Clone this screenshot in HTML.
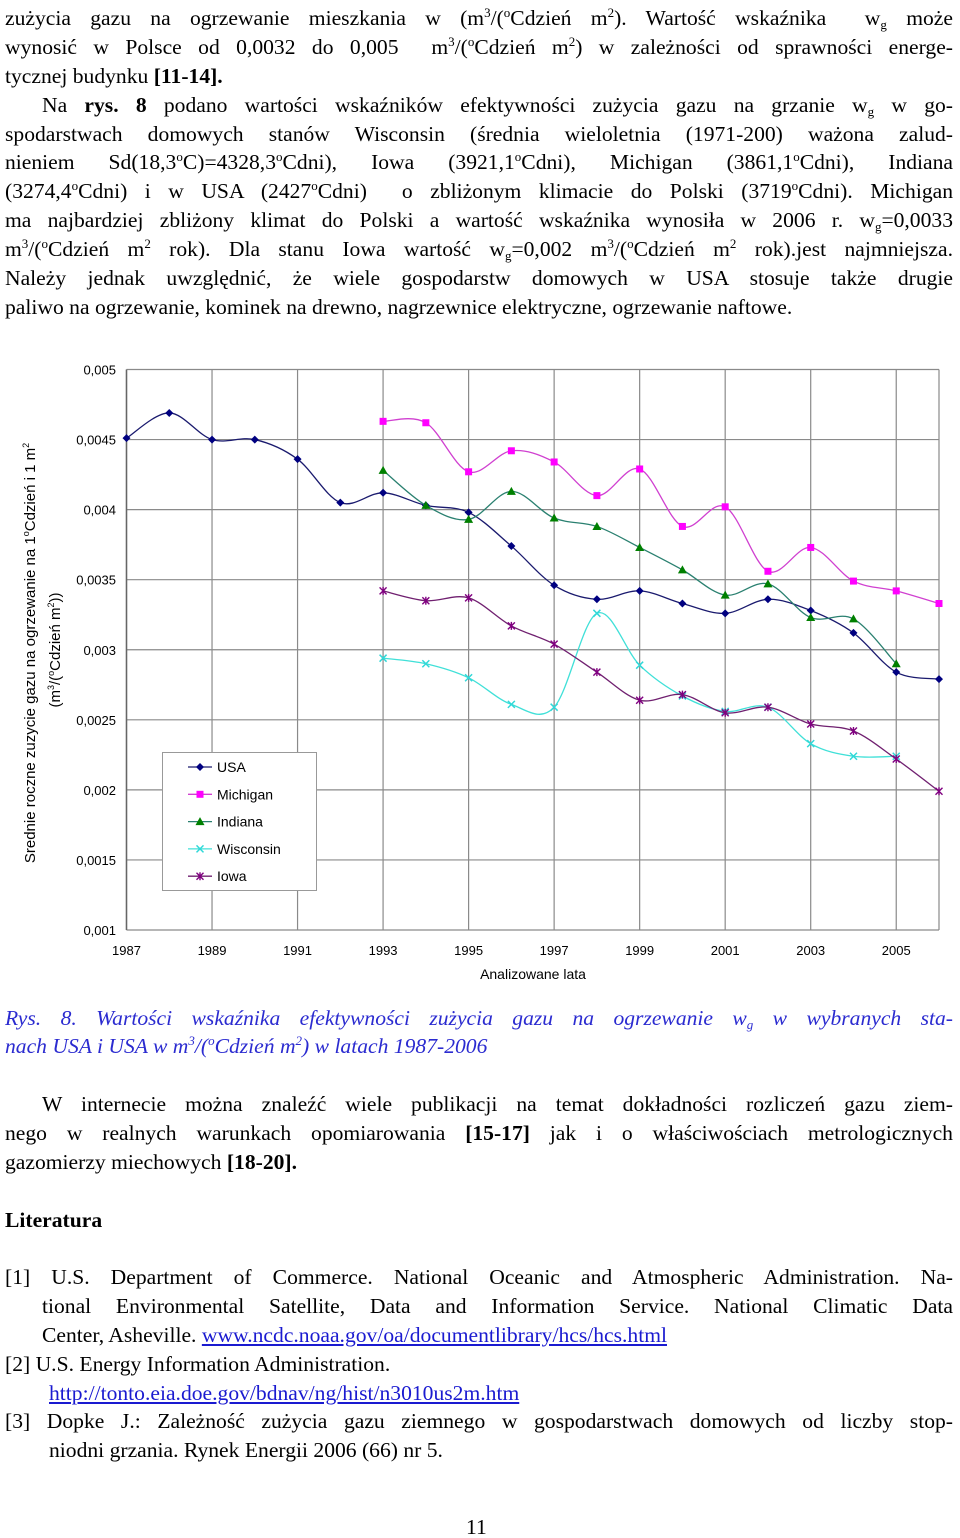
<!DOCTYPE html>
<html><head><meta charset="utf-8">
<style>
body{margin:0;background:#fff;}
#page{position:relative;width:960px;height:1538px;overflow:hidden;font-family:"Liberation Serif",serif;font-size:21.6px;color:#000;}
.ln{position:absolute;left:5px;width:948px;white-space:nowrap;line-height:29px;}
.j{text-align:justify;text-align-last:justify;white-space:normal;height:29px;overflow:hidden;}
sup{font-size:13px;vertical-align:8px;line-height:0;}
sub{font-size:13px;vertical-align:-4px;line-height:0;}
.cap{color:#2b2bd0;font-style:italic;}
a{color:#1a1ad0;text-decoration:underline;}
svg text{font-family:"Liberation Sans",sans-serif;}
</style></head><body>
<div id="page">
<div class="ln j" style="top:4px">zużycia gazu na ogrzewanie mieszkania w (m<sup>3</sup>/(<sup>o</sup>Cdzień m<sup>2</sup>). Wartość wskaźnika &nbsp;w<sub>g</sub> może</div>
<div class="ln j" style="top:33px">wynosić w Polsce od 0,0032 do 0,005 &nbsp;m<sup>3</sup>/(<sup>o</sup>Cdzień m<sup>2</sup>) w zależności od sprawności energe-</div>
<div class="ln" style="top:62px">tycznej budynku <b>[11-14].</b></div>
<div class="ln j" style="top:91px;left:42px;width:911px">Na <b>rys. 8</b> podano wartości wskaźników efektywności zużycia gazu na grzanie w<sub>g</sub> w go-</div>
<div class="ln j" style="top:120px">spodarstwach domowych stanów Wisconsin (średnia wieloletnia (1971-200) ważona zalud-</div>
<div class="ln j" style="top:148px">nieniem Sd(18,3<sup>o</sup>C)=4328,3<sup>o</sup>Cdni), Iowa (3921,1<sup>o</sup>Cdni), Michigan (3861,1<sup>o</sup>Cdni), Indiana</div>
<div class="ln j" style="top:177px">(3274,4<sup>o</sup>Cdni) i w USA (2427<sup>o</sup>Cdni) &nbsp;o zbliżonym klimacie do Polski (3719<sup>o</sup>Cdni). Michigan</div>
<div class="ln j" style="top:206px">ma najbardziej zbliżony klimat do Polski a wartość wskaźnika wynosiła w 2006 r. w<sub>g</sub>=0,0033</div>
<div class="ln j" style="top:235px">m<sup>3</sup>/(<sup>o</sup>Cdzień m<sup>2</sup> rok). Dla stanu Iowa wartość w<sub>g</sub>=0,002 m<sup>3</sup>/(<sup>o</sup>Cdzień m<sup>2</sup> rok).jest najmniejsza.</div>
<div class="ln j" style="top:264px">Należy jednak uwzględnić, że wiele gospodarstw domowych w USA stosuje także drugie</div>
<div class="ln" style="top:293px">paliwo na ogrzewanie, kominek na drewno, nagrzewnice elektryczne, ogrzewanie naftowe.</div>

<svg id="chart" style="position:absolute;left:0;top:340px" width="960" height="660"></svg>

<div class="ln j cap" style="top:1004px">Rys. 8. Wartości wskaźnika efektywności zużycia gazu na ogrzewanie w<sub>g</sub> w wybranych sta-</div>
<div class="ln cap" style="top:1032px">nach USA i USA w m<sup>3</sup>/(<sup>o</sup>Cdzień m<sup>2</sup>) w latach 1987-2006</div>

<div class="ln j" style="top:1090px;left:42px;width:911px">W internecie można znaleźć wiele publikacji na temat dokładności rozliczeń gazu ziem-</div>
<div class="ln j" style="top:1119px">nego w realnych warunkach opomiarowania <b>[15-17]</b> jak i o właściwościach metrologicznych</div>
<div class="ln" style="top:1148px">gazomierzy miechowych <b>[18-20].</b></div>
<div class="ln" style="top:1206px"><b>Literatura</b></div>
<div class="ln j" style="top:1263px">[1] U.S. Department of Commerce. National Oceanic and Atmospheric Administration. Na-</div>
<div class="ln j" style="top:1292px;left:42px;width:911px">tional Environmental Satellite, Data and Information Service. National Climatic Data</div>
<div class="ln" style="top:1321px;left:42px">Center, Asheville. <a>www.ncdc.noaa.gov/oa/documentlibrary/hcs/hcs.html</a></div>
<div class="ln" style="top:1350px">[2] U.S. Energy Information Administration.</div>
<div class="ln" style="top:1379px;left:49px"><a>http://tonto.eia.doe.gov/bdnav/ng/hist/n3010us2m.htm</a></div>
<div class="ln j" style="top:1407px">[3] Dopke J.: Zależność zużycia gazu ziemnego w gospodarstwach domowych od liczby stop-</div>
<div class="ln" style="top:1436px;left:49px">niodni grzania. Rynek Energii 2006 (66) nr 5.</div>
<div class="ln" style="top:1513px;left:466px">11</div>
</div>
<script>
const years=[1987,1988,1989,1990,1991,1992,1993,1994,1995,1996,1997,1998,1999,2000,2001,2002,2003,2004,2005,2006];
const usa=[0.00451,0.00469,0.00450,0.00450,0.00436,0.00405,0.00412,0.00403,0.00398,0.00374,0.00346,0.00336,0.00342,0.00333,0.00326,0.00336,0.00328,0.00312,0.00284,0.00279];
const michigan=[null,null,null,null,null,null,0.00463,0.00462,0.00427,0.00442,0.00434,0.00410,0.00429,0.00388,0.00402,0.00356,0.00373,0.00349,0.00342,0.00333];
const indiana=[null,null,null,null,null,null,0.00428,0.00403,0.00393,0.00413,0.00394,0.00388,0.00373,0.00357,0.00339,0.00347,0.00323,0.00322,0.00290,null];
const wisconsin=[null,null,null,null,null,null,0.00294,0.00290,0.00280,0.00261,0.00259,0.00326,0.00289,0.00267,0.00256,0.00259,0.00233,0.00224,0.00224,null];
const iowa=[null,null,null,null,null,null,0.00342,0.00335,0.00337,0.00317,0.00304,0.00284,0.00264,0.00268,0.00255,0.00259,0.00247,0.00242,0.00222,0.00199];
const yTicks=[0.001,0.0015,0.002,0.0025,0.003,0.0035,0.004,0.0045,0.005];
const yTickLabels=["0,001","0,0015","0,002","0,0025","0,003","0,0035","0,004","0,0045","0,005"];
const xTickYears=[1987,1989,1991,1993,1995,1997,1999,2001,2003,2005];

const NS="http://www.w3.org/2000/svg";
const svg=document.getElementById('chart');
const L=126.5,R=939,T=29.5,B=590;
const x=y=>L+(y-1987)/(2006-1987)*(R-L);
const yS=v=>B-(v-0.001)/(0.005-0.001)*(B-T);
function mk(tag,attrs,parent){const e=document.createElementNS(NS,tag);for(const k in attrs)e.setAttribute(k,attrs[k]);(parent||svg).appendChild(e);return e;}

const grid=mk('g',{});


yTicks.forEach((t,i)=>{
  const l=mk('line',{x1:L,x2:R,y1:yS(t),y2:yS(t),stroke:'#8a8a8a','stroke-width':1.2},grid);
  
  
  const tx=mk('text',{x:116,y:yS(t)+5,'text-anchor':'end','font-size':13});
  
  
  tx.textContent=yTickLabels[i];
});
xTickYears.forEach(yr=>{
  const l=mk('line',{x1:x(yr),x2:x(yr),y1:T,y2:B,stroke:'#8a8a8a','stroke-width':1.2},grid);
  
  
  const tx=mk('text',{x:x(yr),y:615,'text-anchor':'middle','font-size':13});
  
  
  tx.textContent=String(yr);
});
const rb=mk('line',{x1:R,x2:R,y1:T,y2:B,stroke:'#8a8a8a','stroke-width':1.2});


const ax=mk('line',{x1:L,x2:L,y1:T,y2:B,stroke:'#666','stroke-width':1.5});



const xt=mk('text',{x:533,y:639,'text-anchor':'middle','font-size':14});


xt.textContent='Analizowane lata';
const yt=mk('text',{transform:'translate(35,313) rotate(-90)','text-anchor':'middle','font-size':15});


yt.innerHTML='Srednie roczne zuzycie gazu na ogrzewanie na 1<tspan font-size="9" dy="-6">o</tspan><tspan dy="6">Cdzień i 1 m</tspan><tspan font-size="9" dy="-6">2</tspan>';
const yt2=mk('text',{transform:'translate(60,310) rotate(-90)','text-anchor':'middle','font-size':15});


yt2.innerHTML='(m<tspan font-size="9" dy="-6">3</tspan><tspan dy="6">/(</tspan><tspan font-size="9" dy="-6">o</tspan><tspan dy="6">Cdzień m</tspan><tspan font-size="9" dy="-6">2</tspan><tspan dy="6">))</tspan>';

function spline(pts){
  let d='M'+pts[0][0]+','+pts[0][1];
  for(let i=0;i<pts.length-1;i++){
    const p0=pts[i-1]||pts[i],p1=pts[i],p2=pts[i+1],p3=pts[i+2]||p2;
    const c1=[p1[0]+(p2[0]-p0[0])/6,p1[1]+(p2[1]-p0[1])/6];
    const c2=[p2[0]-(p3[0]-p1[0])/6,p2[1]-(p3[1]-p1[1])/6];
    d+=' C'+c1[0]+','+c1[1]+' '+c2[0]+','+c2[1]+' '+p2[0]+','+p2[1];
  }
  return d;
}
function marker(type,cx,cy,color,g){
  let e;
  if(type==='diamond')e=mk('path',{d:`M${cx},${cy-4}L${cx+4},${cy}L${cx},${cy+4}L${cx-4},${cy}Z`,fill:color},g);
  else if(type==='square')e=mk('rect',{x:cx-3.5,y:cy-3.5,width:7,height:7,fill:color},g);
  else if(type==='triangle')e=mk('path',{d:`M${cx},${cy-4.5}L${cx+4.5},${cy+3.5}L${cx-4.5},${cy+3.5}Z`,fill:color},g);
  else if(type==='x')e=mk('path',{d:`M${cx-3.5},${cy-3.5}L${cx+3.5},${cy+3.5}M${cx+3.5},${cy-3.5}L${cx-3.5},${cy+3.5}`,stroke:color,'stroke-width':1.5,fill:'none'},g);
  else e=mk('path',{d:`M${cx-3.5},${cy-3.5}L${cx+3.5},${cy+3.5}M${cx+3.5},${cy-3.5}L${cx-3.5},${cy+3.5}M${cx},${cy-4}L${cx},${cy+4}`,stroke:color,'stroke-width':1.4,fill:'none'},g);
  
  
}
const series=[
 {name:'USA',data:usa,line:'#1a1a6e',mark:'#000080',type:'diamond'},
 {name:'Michigan',data:michigan,line:'#d040d0',mark:'#ff00ff',type:'square'},
 {name:'Indiana',data:indiana,line:'#2a8070',mark:'#008000',type:'triangle'},
 {name:'Wisconsin',data:wisconsin,line:'#40e0d8',mark:'#30d8d8',type:'x'},
 {name:'Iowa',data:iowa,line:'#702070',mark:'#800080',type:'star'}
];
series.forEach(s=>{
  const g=mk('g',{});
  
  
  const pts=[];
  s.data.forEach((v,i)=>{if(v!==null)pts.push([x(years[i]),yS(v)]);});
  const p=mk('path',{d:spline(pts),fill:'none',stroke:s.line,'stroke-width':1.3},g);
  
  
  pts.forEach(pt=>marker(s.type,pt[0],pt[1],s.mark,g));
});
const lg=mk('g',{});


mk('rect',{x:162.5,y:412.5,width:154,height:138,fill:'#fff',stroke:'#999','stroke-width':1},lg);
series.forEach((s,i)=>{
  const cy=427+i*27.3;
  const e=mk('g',{},lg);
  
  
  mk('line',{x1:188,x2:212,y1:cy,y2:cy,stroke:s.line,'stroke-width':1.3},e);
  marker(s.type,200,cy,s.mark,e);
  const t=mk('text',{x:217,y:cy+5,'font-size':14},e);
  
  
  t.textContent=s.name;
});
</script>
</body></html>
